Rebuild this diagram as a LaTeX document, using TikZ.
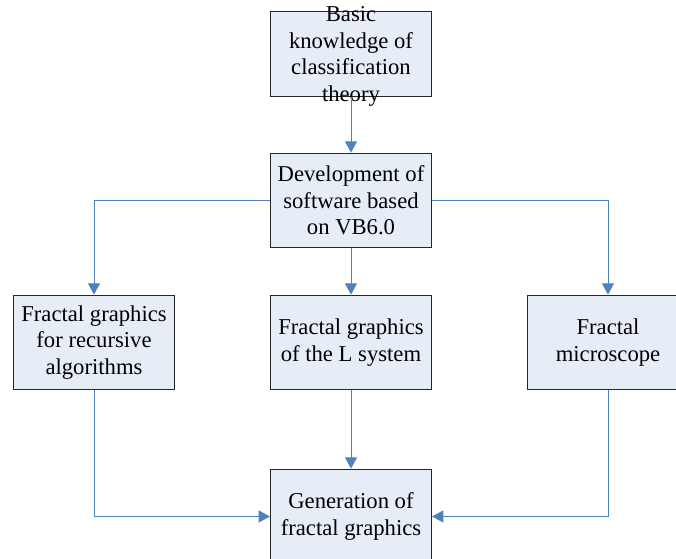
\documentclass[tikz,border=0pt]{standalone}
\usepackage{fontspec}
\setmainfont{Liberation Serif}
\usetikzlibrary{arrows.meta}
\definecolor{boxfill}{RGB}{231,237,247}
\definecolor{linkblue}{RGB}{79,129,189}

\begin{document}
\begin{tikzpicture}[x=0.75pt,y=-0.75pt,
    box/.style={draw=black!85,line width=0.8pt,fill=boxfill,minimum width=120.75pt,minimum height=71pt,inner sep=0pt,align=center,font=\fontsize{17}{19.9}\selectfont},
    boxtext/.style={inner sep=0pt,align=center,font=\fontsize{17}{19.9}\selectfont},
    link/.style={draw=linkblue,line width=0.75pt,-{Triangle[width=9pt,length=8.5pt]}}]
    \clip (0,0) rectangle (676,559);
    \node[box,minimum height=63.75pt] (basic) at (351,54.2) {};
    \node[boxtext] (basictext) at (351,56.5) {Basic\\knowledge of\\classification\\theory};
    \node[box] (dev) at (351,200.5) {Development of\\software based\\on VB6.0};
    \node[box] (rec) at (94,342.5) {Fractal graphics\\for recursive\\algorithms};
    \node[box] (lsys) at (351,342.5) {Fractal graphics\\of the L system};
    \node[box] (micro) at (608,342.5) {Fractal\\microscope};
    \node[box] (gen) at (351,516.5) {Generation of\\fractal graphics};
    \draw[link] (basic) -- (dev);
    \draw[link] (dev.west) -| (rec);
    \draw[link] (dev) -- (lsys);
    \draw[link] (dev.east) -| (micro);
    \draw[link] (rec) |- (gen);
    \draw[link] (lsys) -- (gen);
    \draw[link] (micro) |- (gen);
\end{tikzpicture}
\end{document}
